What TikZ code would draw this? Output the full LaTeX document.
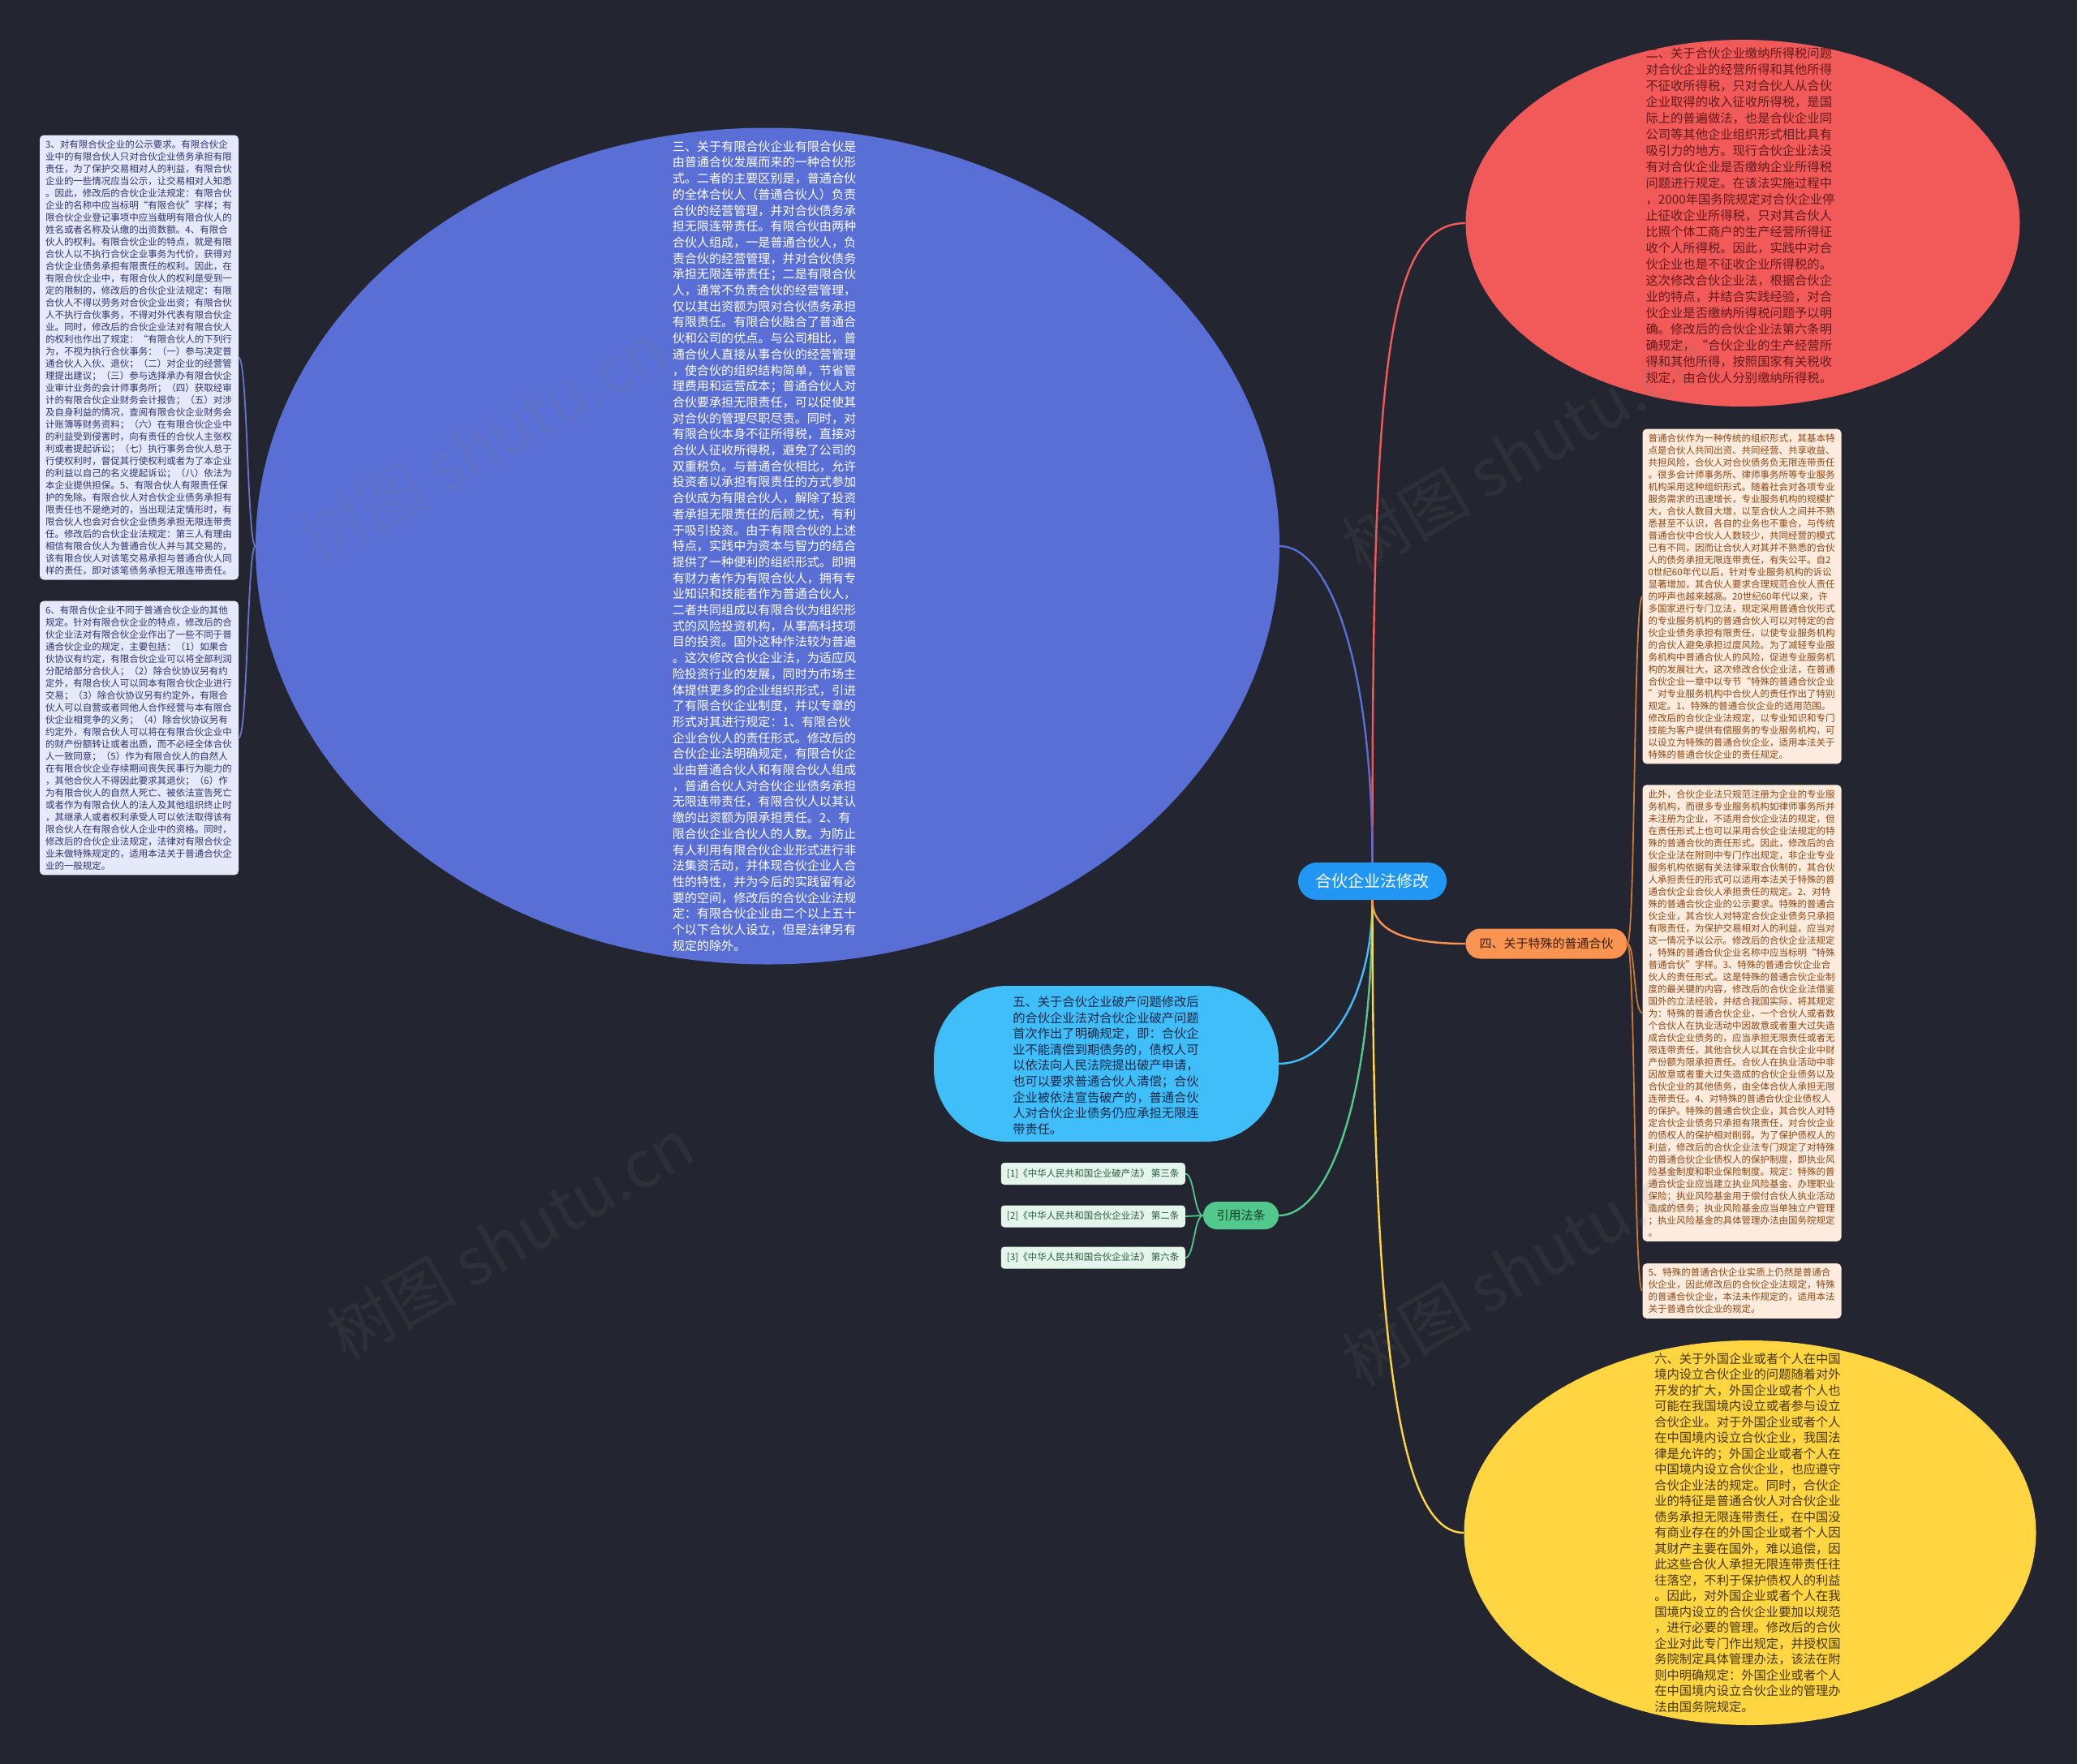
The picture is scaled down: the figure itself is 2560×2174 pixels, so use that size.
\documentclass[tikz,border=0pt]{standalone}
\usepackage{fontspec}
\setmainfont{Noto Sans CJK SC}
\usetikzlibrary{shapes.geometric}

\definecolor{fondo}{RGB}{35,38,48}
\definecolor{raizazul}{RGB}{33,150,243}
\definecolor{azulgrande}{RGB}{89,111,213}
\definecolor{rojo}{RGB}{242,90,90}
\definecolor{rojotexto}{RGB}{100,25,25}
\definecolor{amarillo}{RGB}{255,213,66}
\definecolor{amarillotexto}{RGB}{70,55,10}
\definecolor{celeste}{RGB}{64,190,250}
\definecolor{celestetexto}{RGB}{20,40,70}
\definecolor{naranja}{RGB}{250,148,80}
\definecolor{naranjatexto}{RGB}{60,30,10}
\definecolor{verde}{RGB}{82,200,140}
\definecolor{verdetexto}{RGB}{20,60,40}
\definecolor{menta}{RGB}{228,246,236}
\definecolor{mentatexto}{RGB}{40,90,60}
\definecolor{durazno}{RGB}{253,236,222}
\definecolor{duraznotexto}{RGB}{140,70,20}
\definecolor{lila}{RGB}{230,233,250}
\definecolor{lilatexto}{RGB}{45,52,110}
\definecolor{lineaizq}{RGB}{100,118,205}
\definecolor{linealila}{RGB}{200,120,60}

\newcommand\letra[2]{\fontsize{#1pt}{#2pt}\selectfont}

\tikzset{
  forma/.style={ellipse, inner sep=0pt},
  pastilla/.style={rectangle, inner sep=0pt},
  caja/.style={rounded corners=5pt, inner xsep=7pt, inner ysep=6pt, text width=231pt, align=left, font=\letra{11.5}{15}},
  cajaizq/.style={caja, fill=lila, text=lilatexto},
  cajader/.style={caja, fill=durazno, text=duraznotexto},
  cita/.style={rounded corners=4pt, fill=menta, text=mentatexto, font=\letra{11.5}{14}, minimum width=227pt, minimum height=27pt, inner sep=2pt, anchor=east},
  rama/.style={line width=2.4pt},
  subrama/.style={line width=1.8pt},
  marca/.style={font=\letra{80}{80}, text=gray, opacity=0.12, rotate=30}
}

\begin{document}
\begin{tikzpicture}[x=1pt,y=-1pt]
  % Fondo
  \useasboundingbox (0,0) rectangle (2560,2174);
  \fill[fondo] (0,0) rectangle (2560,2174);

  % Formas principales
  \node[forma, fill=azulgrande, minimum width=1262pt, minimum height=1031pt] (san) at (946,673) {};
  \node[forma, fill=rojo, minimum width=683pt, minimum height=452pt] (er) at (2148,275) {};
  \node[forma, fill=amarillo, minimum width=705pt, minimum height=474pt] (liu) at (2157,1889) {};
  \node[pastilla, fill=celeste, rounded corners=90pt, minimum width=425pt, minimum height=192pt] (wu) at (1363.5,1311) {};

  % Nodo central y ramas cortas
  \node[pastilla, fill=raizazul, rounded corners=23pt, minimum width=183pt, minimum height=46pt, text=white, font=\letra{20}{20}] (raiz) at (1691.5,1086) {合伙企业法修改};
  \node[pastilla, fill=naranja, rounded corners=18pt, minimum width=199pt, minimum height=37pt, text=naranjatexto, font=\letra{15}{15}] (si) at (1906,1163) {四、关于特殊的普通合伙};
  \node[pastilla, fill=verde, rounded corners=17pt, minimum width=93pt, minimum height=34pt, text=verdetexto, font=\letra{15}{15}] (yinyong) at (1529.5,1498) {引用法条};

  % Conexiones desde la raiz
  \draw[rama, rojo] (raiz.north) .. controls +(0,-600) and +(-100,0) .. (er.west);
  \draw[rama, azulgrande] (raiz.north) .. controls +(0,-250) and +(60,0) .. (san.east);
  \draw[rama, celeste] (raiz.south) .. controls +(0,120) and +(60,0) .. (wu.east);
  \draw[rama, verde] (raiz.south) .. controls +(0,250) and +(60,0) .. (yinyong.east);
  \draw[rama, amarillo] (raiz.south) .. controls +(0,550) and +(-80,0) .. (liu.west);
  \draw[rama, naranja] (raiz.south) .. controls +(0,40) and +(-70,0) .. (si.west);

  % Texto de las formas
  \node[text=white, align=left, inner sep=0pt, font=\letra{15.1}{19.7}] (txtsan) at (942,673) {三、关于有限合伙企业有限合伙是\\由普通合伙发展而来的一种合伙形\\式。二者的主要区别是，普通合伙\\的全体合伙人（普通合伙人）负责\\合伙的经营管理，并对合伙债务承\\担无限连带责任。有限合伙由两种\\合伙人组成，一是普通合伙人，负\\责合伙的经营管理，并对合伙债务\\承担无限连带责任；二是有限合伙\\人，通常不负责合伙的经营管理，\\仅以其出资额为限对合伙债务承担\\有限责任。有限合伙融合了普通合\\伙和公司的优点。与公司相比，普\\通合伙人直接从事合伙的经营管理\\，使合伙的组织结构简单，节省管\\理费用和运营成本；普通合伙人对\\合伙要承担无限责任，可以促使其\\对合伙的管理尽职尽责。同时，对\\有限合伙本身不征所得税，直接对\\合伙人征收所得税，避免了公司的\\双重税负。与普通合伙相比，允许\\投资者以承担有限责任的方式参加\\合伙成为有限合伙人，解除了投资\\者承担无限责任的后顾之忧，有利\\于吸引投资。由于有限合伙的上述\\特点，实践中为资本与智力的结合\\提供了一种便利的组织形式。即拥\\有财力者作为有限合伙人，拥有专\\业知识和技能者作为普通合伙人，\\二者共同组成以有限合伙为组织形\\式的风险投资机构，从事高科技项\\目的投资。国外这种作法较为普遍\\。这次修改合伙企业法，为适应风\\险投资行业的发展，同时为市场主\\体提供更多的企业组织形式，引进\\了有限合伙企业制度，并以专章的\\形式对其进行规定：1、有限合伙\\企业合伙人的责任形式。修改后的\\合伙企业法明确规定，有限合伙企\\业由普通合伙人和有限合伙人组成\\，普通合伙人对合伙企业债务承担\\无限连带责任，有限合伙人以其认\\缴的出资额为限承担责任。2、有\\限合伙企业合伙人的人数。为防止\\有人利用有限合伙企业形式进行非\\法集资活动，并体现合伙企业人合\\性的特性，并为今后的实践留有必\\要的空间，修改后的合伙企业法规\\定：有限合伙企业由二个以上五十\\个以下合伙人设立，但是法律另有\\规定的除外。};

  \node[text=rojotexto, align=left, inner sep=0pt, font=\letra{15.3}{20}] (txter) at (2145,266) {二、关于合伙企业缴纳所得税问题\\对合伙企业的经营所得和其他所得\\不征收所得税，只对合伙人从合伙\\企业取得的收入征收所得税，是国\\际上的普遍做法，也是合伙企业同\\公司等其他企业组织形式相比具有\\吸引力的地方。现行合伙企业法没\\有对合伙企业是否缴纳企业所得税\\问题进行规定。在该法实施过程中\\，2000年国务院规定对合伙企业停\\止征收企业所得税，只对其合伙人\\比照个体工商户的生产经营所得征\\收个人所得税。因此，实践中对合\\伙企业也是不征收企业所得税的。\\这次修改合伙企业法，根据合伙企\\业的特点，并结合实践经验，对合\\伙企业是否缴纳所得税问题予以明\\确。修改后的合伙企业法第六条明\\确规定，“合伙企业的生产经营所\\得和其他所得，按照国家有关税收\\规定，由合伙人分别缴纳所得税。};

  \node[text=amarillotexto, align=left, inner sep=0pt, font=\letra{15.3}{19.5}] (txtliu) at (2154,1889) {六、关于外国企业或者个人在中国\\境内设立合伙企业的问题随着对外\\开发的扩大，外国企业或者个人也\\可能在我国境内设立或者参与设立\\合伙企业。对于外国企业或者个人\\在中国境内设立合伙企业，我国法\\律是允许的；外国企业或者个人在\\中国境内设立合伙企业，也应遵守\\合伙企业法的规定。同时，合伙企\\业的特征是普通合伙人对合伙企业\\债务承担无限连带责任，在中国没\\有商业存在的外国企业或者个人因\\其财产主要在国外，难以追偿，因\\此这些合伙人承担无限连带责任往\\往落空，不利于保护债权人的利益\\。因此，对外国企业或者个人在我\\国境内设立的合伙企业要加以规范\\，进行必要的管理。修改后的合伙\\企业对此专门作出规定，并授权国\\务院制定具体管理办法，该法在附\\则中明确规定：外国企业或者个人\\在中国境内设立合伙企业的管理办\\法由国务院规定。};

  \node[text=celestetexto, align=left, inner sep=0pt, font=\letra{15.3}{19.6}] (txtwu) at (1363,1313) {五、关于合伙企业破产问题修改后\\的合伙企业法对合伙企业破产问题\\首次作出了明确规定，即：合伙企\\业不能清偿到期债务的，债权人可\\以依法向人民法院提出破产申请，\\也可以要求普通合伙人清偿；合伙\\企业被依法宣告破产的，普通合伙\\人对合伙企业债务仍应承担无限连\\带责任。};

  % Cajas de la izquierda
  \node[cajaizq] (izq3) at (171.5,440.5) {3、对有限合伙企业的公示要求。有限合伙企\\业中的有限合伙人只对合伙企业债务承担有限\\责任，为了保护交易相对人的利益，有限合伙\\企业的一些情况应当公示，让交易相对人知悉\\。因此，修改后的合伙企业法规定：有限合伙\\企业的名称中应当标明“有限合伙”字样；有\\限合伙企业登记事项中应当载明有限合伙人的\\姓名或者名称及认缴的出资数额。4、有限合\\伙人的权利。有限合伙企业的特点，就是有限\\合伙人以不执行合伙企业事务为代价，获得对\\合伙企业债务承担有限责任的权利。因此，在\\有限合伙企业中，有限合伙人的权利是受到一\\定的限制的，修改后的合伙企业法规定：有限\\合伙人不得以劳务对合伙企业出资；有限合伙\\人不执行合伙事务，不得对外代表有限合伙企\\业。同时，修改后的合伙企业法对有限合伙人\\的权利也作出了规定：“有限合伙人的下列行\\为，不视为执行合伙事务：（一）参与决定普\\通合伙人入伙、退伙；（二）对企业的经营管\\理提出建议；（三）参与选择承办有限合伙企\\业审计业务的会计师事务所；（四）获取经审\\计的有限合伙企业财务会计报告；（五）对涉\\及自身利益的情况，查阅有限合伙企业财务会\\计账簿等财务资料；（六）在有限合伙企业中\\的利益受到侵害时，向有责任的合伙人主张权\\利或者提起诉讼；（七）执行事务合伙人怠于\\行使权利时，督促其行使权利或者为了本企业\\的利益以自己的名义提起诉讼；（八）依法为\\本企业提供担保。5、有限合伙人有限责任保\\护的免除。有限合伙人对合伙企业债务承担有\\限责任也不是绝对的，当出现法定情形时，有\\限合伙人也会对合伙企业债务承担无限连带责\\任。修改后的合伙企业法规定：第三人有理由\\相信有限合伙人为普通合伙人并与其交易的，\\该有限合伙人对该笔交易承担与普通合伙人同\\样的责任，即对该笔债务承担无限连带责任。};

  \node[cajaizq] (izq6) at (171.5,909.5) {6、有限合伙企业不同于普通合伙企业的其他\\规定。针对有限合伙企业的特点，修改后的合\\伙企业法对有限合伙企业作出了一些不同于普\\通合伙企业的规定，主要包括：（1）如果合\\伙协议有约定，有限合伙企业可以将全部利润\\分配给部分合伙人；（2）除合伙协议另有约\\定外，有限合伙人可以同本有限合伙企业进行\\交易；（3）除合伙协议另有约定外，有限合\\伙人可以自营或者同他人合作经营与本有限合\\伙企业相竞争的义务；（4）除合伙协议另有\\约定外，有限合伙人可以将在有限合伙企业中\\的财产份额转让或者出质，而不必经全体合伙\\人一致同意；（5）作为有限合伙人的自然人\\在有限合伙企业存续期间丧失民事行为能力的\\，其他合伙人不得因此要求其退伙；（6）作\\为有限合伙人的自然人死亡、被依法宣告死亡\\或者作为有限合伙人的法人及其他组织终止时\\，其继承人或者权利承受人可以依法取得该有\\限合伙人在有限合伙人企业中的资格。同时，\\修改后的合伙企业法规定，法律对有限合伙企\\业未做特殊规定的，适用本法关于普通合伙企\\业的一般规定。};

  \draw[subrama, lineaizq] (san.west) .. controls +(-10,0) and +(11,0) .. (izq3.east);
  \draw[subrama, lineaizq] (san.west) .. controls +(-10,0) and +(11,0) .. (izq6.east);

  % Cajas de la derecha
  \node[cajader] (der1) at (2147,735) {普通合伙作为一种传统的组织形式，其基本特\\点是合伙人共同出资、共同经营、共享收益、\\共担风险，合伙人对合伙债务负无限连带责任\\。很多会计师事务所、律师事务所等专业服务\\机构采用这种组织形式。随着社会对各项专业\\服务需求的迅速增长，专业服务机构的规模扩\\大，合伙人数目大增，以至合伙人之间并不熟\\悉甚至不认识，各自的业务也不重合，与传统\\普通合伙中合伙人人数较少，共同经营的模式\\已有不同，因而让合伙人对其并不熟悉的合伙\\人的债务承担无限连带责任，有失公平。自2\\0世纪60年代以后，针对专业服务机构的诉讼\\显著增加，其合伙人要求合理规范合伙人责任\\的呼声也越来越高。20世纪60年代以来，许\\多国家进行专门立法，规定采用普通合伙形式\\的专业服务机构的普通合伙人可以对特定的合\\伙企业债务承担有限责任，以使专业服务机构\\的合伙人避免承担过度风险。为了减轻专业服\\务机构中普通合伙人的风险，促进专业服务机\\构的发展壮大，这次修改合伙企业法，在普通\\合伙企业一章中以专节“特殊的普通合伙企业\\”对专业服务机构中合伙人的责任作出了特别\\规定。1、特殊的普通合伙企业的适用范围。\\修改后的合伙企业法规定，以专业知识和专门\\技能为客户提供有偿服务的专业服务机构，可\\以设立为特殊的普通合伙企业，适用本法关于\\特殊的普通合伙企业的责任规定。};

  \node[cajader] (der2) at (2147,1248.5) {此外，合伙企业法只规范注册为企业的专业服\\务机构，而很多专业服务机构如律师事务所并\\未注册为企业，不适用合伙企业法的规定，但\\在责任形式上也可以采用合伙企业法规定的特\\殊的普通合伙的责任形式。因此，修改后的合\\伙企业法在附则中专门作出规定，非企业专业\\服务机构依据有关法律采取合伙制的，其合伙\\人承担责任的形式可以适用本法关于特殊的普\\通合伙企业合伙人承担责任的规定。2、对特\\殊的普通合伙企业的公示要求。特殊的普通合\\伙企业，其合伙人对特定合伙企业债务只承担\\有限责任，为保护交易相对人的利益，应当对\\这一情况予以公示。修改后的合伙企业法规定\\，特殊的普通合伙企业名称中应当标明“特殊\\普通合伙”字样。3、特殊的普通合伙企业合\\伙人的责任形式。这是特殊的普通合伙企业制\\度的最关键的内容，修改后的合伙企业法借鉴\\国外的立法经验，并结合我国实际，将其规定\\为：特殊的普通合伙企业，一个合伙人或者数\\个合伙人在执业活动中因故意或者重大过失造\\成合伙企业债务的，应当承担无限责任或者无\\限连带责任，其他合伙人以其在合伙企业中财\\产份额为限承担责任。合伙人在执业活动中非\\因故意或者重大过失造成的合伙企业债务以及\\合伙企业的其他债务，由全体合伙人承担无限\\连带责任。4、对特殊的普通合伙企业债权人\\的保护。特殊的普通合伙企业，其合伙人对特\\定合伙企业债务只承担有限责任，对合伙企业\\的债权人的保护相对削弱。为了保护债权人的\\利益，修改后的合伙企业法专门规定了对特殊\\的普通合伙企业债权人的保护制度，即执业风\\险基金制度和职业保险制度。规定：特殊的普\\通合伙企业应当建立执业风险基金、办理职业\\保险；执业风险基金用于偿付合伙人执业活动\\造成的债务；执业风险基金应当单独立户管理\\；执业风险基金的具体管理办法由国务院规定\\。};

  \node[cajader] (der3) at (2147,1591) {5、特殊的普通合伙企业实质上仍然是普通合\\伙企业，因此修改后的合伙企业法规定，特殊\\的普通合伙企业，本法未作规定的，适用本法\\关于普通合伙企业的规定。};

  \draw[subrama, linealila] (si.east) .. controls +(10,0) and +(-11,0) .. (der1.west);
  \draw[subrama, linealila] (si.east) .. controls +(10,0) and +(-11,0) .. (der2.west);
  \draw[subrama, linealila] (si.east) .. controls +(10,0) and +(-11,0) .. (der3.west);

  % Citas
  \node[cita] (cita1) at (1461,1446.5) {[1]《中华人民共和国企业破产法》 第三条};
  \node[cita] (cita2) at (1461,1499) {[2]《中华人民共和国合伙企业法》 第二条};
  \node[cita] (cita3) at (1461,1550) {[3]《中华人民共和国合伙企业法》 第六条};

  \draw[subrama, verde] (yinyong.west) .. controls +(-11,0) and +(11,0) .. (cita1.east);
  \draw[subrama, verde] (yinyong.west) .. controls +(-11,0) and +(11,0) .. (cita2.east);
  \draw[subrama, verde] (yinyong.west) .. controls +(-11,0) and +(11,0) .. (cita3.east);

  % Marcas de agua
  \node[marca] (marca1) at (596,547) {树图 shutu.cn};
  \node[marca] (marca2) at (629,1527) {树图 shutu.cn};
  \node[marca] (marca3) at (1880,555) {树图 shutu.cn};
  \node[marca] (marca4) at (1880,1559) {树图 shutu.cn};
\end{tikzpicture}
\end{document}
